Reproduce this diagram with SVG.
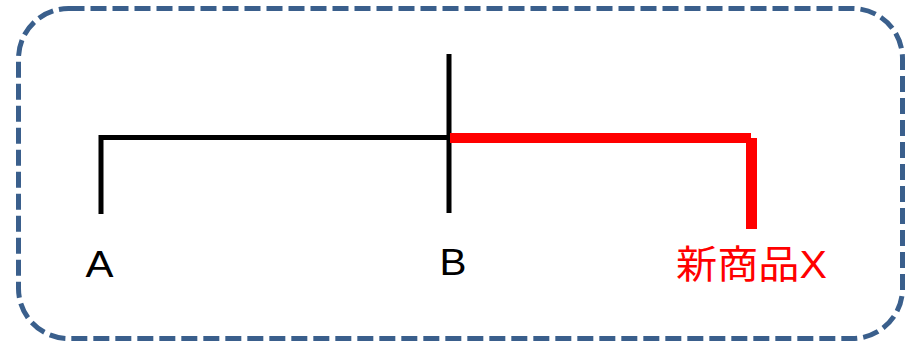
<svg xmlns="http://www.w3.org/2000/svg" width="917" height="343" viewBox="0 0 917 343">
<style>
.frame{fill:none;stroke:#3A5F8C;stroke-width:5;stroke-dasharray:16 6}
.blk{stroke:#000;stroke-width:5;fill:none}
.red{stroke:#FF0000;fill:none}
.lbl{font-family:"Liberation Sans","Noto Sans CJK JP",sans-serif;font-size:37px;fill:#000}
.lblr{font-family:"Liberation Sans","Noto Sans CJK JP",sans-serif;font-size:39px;fill:#FF0000}
</style>
<rect width="917" height="343" fill="#fff"/>
<g id="frame"><rect class="frame" x="18.5" y="8.5" width="884" height="330" rx="50" ry="50"/></g>
<g id="connectors">
<polyline class="blk" points="101,214 101,137.5 449,137.5"/>
<line class="blk" x1="449" y1="54" x2="449" y2="213" stroke-width="5.5"/>
<line class="red" x1="450" y1="138" x2="751" y2="138" stroke-width="10"/>
<line class="red" x1="751.5" y1="138" x2="751.5" y2="229" stroke-width="11"/>
</g>
<g id="A"><text class="lbl" x="99.5" y="277" text-anchor="middle" textLength="28" lengthAdjust="spacingAndGlyphs">A</text></g>
<g id="B"><text class="lbl" x="453" y="275" text-anchor="middle" textLength="27" lengthAdjust="spacingAndGlyphs">B</text></g>
<g id="X"><text class="lblr" x="676" y="278" textLength="151" lengthAdjust="spacingAndGlyphs">新商品X</text></g>
</svg>
